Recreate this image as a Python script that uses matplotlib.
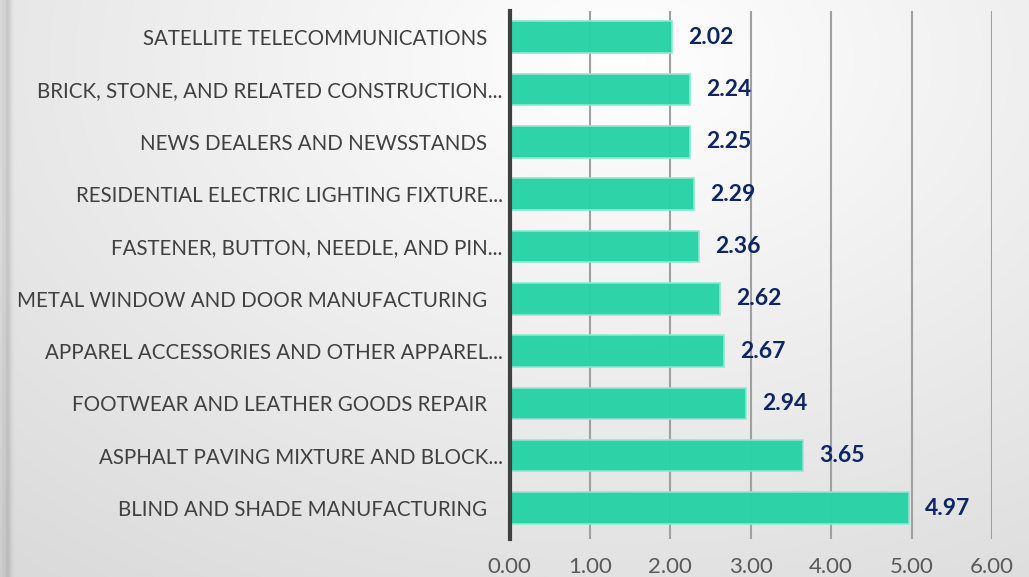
import numpy as np
import matplotlib
matplotlib.use("Agg")
import matplotlib.pyplot as plt

# ── Data (top to bottom) ──────────────────────────────────────────────────────
industries = [
    "SATELLITE TELECOMMUNICATIONS   ",
    "BRICK, STONE, AND RELATED CONSTRUCTION...",
    "NEWS DEALERS AND NEWSSTANDS   ",
    "RESIDENTIAL ELECTRIC LIGHTING FIXTURE...",
    "FASTENER, BUTTON, NEEDLE, AND PIN...",
    "METAL WINDOW AND DOOR MANUFACTURING   ",
    "APPAREL ACCESSORIES AND OTHER APPAREL...",
    "FOOTWEAR AND LEATHER GOODS REPAIR   ",
    "ASPHALT PAVING MIXTURE AND BLOCK...",
    "BLIND AND SHADE MANUFACTURING   ",
]
values = [2.02, 2.24, 2.25, 2.29, 2.36, 2.62, 2.67, 2.94, 3.65, 4.97]
x_ticks = [0, 1, 2, 3, 4, 5, 6]

BAR_COLOR   = "#27d3a5"
LABEL_COLOR = "#404040"
VALUE_COLOR = "#0d2563"
FONT        = ["Lato", "DejaVu Sans"]

W, H = 1029, 577
fig = plt.figure(figsize=(W / 100, H / 100), dpi=100)

# ── Background: soft radial gradient with a shaded left edge ─────────────────
bg = fig.add_axes([0, 0, 1, 1], zorder=-10)
yy, xx = np.mgrid[0:H, 0:W]
r = np.hypot((xx - 620) / 900.0, (yy - 60) / 620.0)
shade = 1.0 - 0.17 * np.clip(r, 0, 1.25) / 1.25
edge = np.exp(-((xx - 7) / 4.0) ** 2) * 0.12
edge += np.where(xx < 4, 0.04, 0.0)
shade = np.clip(shade - edge, 0, 1)
bg.imshow(np.dstack([shade] * 3), extent=[0, W, H, 0], aspect="auto")
bg.axis("off")

# ── Bars ─────────────────────────────────────────────────────────────────────
ax = fig.add_axes([509.5 / W, 1 - 539 / H, (992 - 509.5) / W, (539 - 11) / H])
ax.set_facecolor("none")
pos = np.arange(len(industries))
ax.barh(pos, values, height=0.6, color=BAR_COLOR, alpha=0.97,
        edgecolor="#8fe8cf", linewidth=1.2, zorder=3)

for p, v in zip(pos, values):
    ax.text(v + 0.2, p, f"{v:.2f}", va="center", ha="left",
            fontsize=16.5, fontweight="bold", color=VALUE_COLOR,
            family=FONT, zorder=4)

ax.set_ylim(9.59, -0.5)
ax.set_xlim(0, 6)
ax.set_xticks(x_ticks)
ax.set_xticklabels([f"{t:.2f}" for t in x_ticks], fontsize=16,
                   color="#595959", family=FONT)
ax.set_yticks(pos)
ax.set_yticklabels(industries, fontsize=14.8, color=LABEL_COLOR, family=FONT)
ax.tick_params(axis="x", length=0, pad=13)
ax.tick_params(axis="y", length=0, pad=5)

ax.grid(axis="x", color="#a0a0a0", linewidth=1.5, zorder=0)
ax.set_axisbelow(True)
for side in ["top", "right", "bottom"]:
    ax.spines[side].set_visible(False)
ax.spines["left"].set_color("#404040")
ax.spines["left"].set_linewidth(3)
ax.spines["left"].set_zorder(5)

plt.savefig("out.png", dpi=100)
plt.close()
